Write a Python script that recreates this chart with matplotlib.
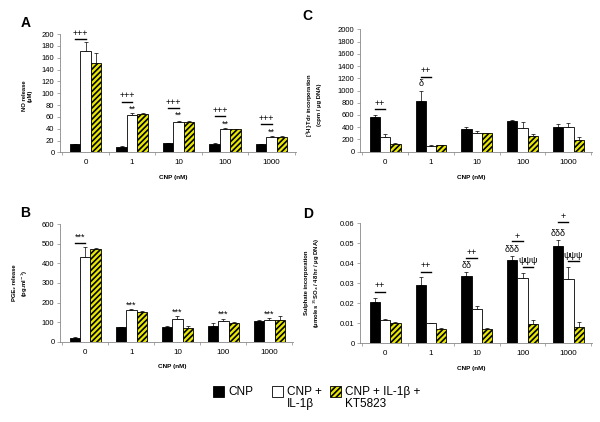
import numpy as np
import matplotlib
matplotlib.use("Agg")
import matplotlib.pyplot as plt
from matplotlib.patches import Rectangle

plt.rcParams['font.family'] = ['Liberation Sans', 'DejaVu Sans']
plt.rcParams['hatch.linewidth'] = 1.2

groups = ["0", "1", "10", "100", "1000"]
series = ["CNP", "CNP +\nIL-1\u03b2", "CNP + IL-1\u03b2 +\nKT5823"]

# panel A: NO release (uM)
a_cnp = [13.5, 9, 15, 13.5, 13.5]
a_cnp_err = [1, 1, 1, 3, 1]
a_il = [172, 63, 52, 39.5, 26]
a_il_err = [14, 4, 1, 1, 1]
a_kt = [150.5, 65, 52, 39, 26]
a_kt_err = [17, 1.5, 1, 1, 2.5]

# panel B: PGE2 release (pg/ml)
b_cnp = [22, 73, 78, 83, 105]
b_cnp_err = [5, 5, 5, 12, 5]
b_il = [430, 160, 114, 104, 109]
b_il_err = [51, 5, 17, 11, 11]
b_kt = [474, 151, 70, 97, 110]
b_kt_err = [5, 8, 12, 5, 20]

# panel C: 3H-Tdr incorporation
c_cnp = [562, 834, 366, 497, 409]
c_cnp_err = [33, 163, 32, 22, 38]
c_il = [235, 100, 300, 382, 398]
c_il_err = [49, 3, 33, 103, 66]
c_kt = [131, 104, 300, 257, 191]
c_kt_err = [10, 10, 10, 33, 49]

# panel D: sulphate incorporation
d_cnp = [0.0207, 0.0292, 0.0334, 0.0414, 0.0487]
d_cnp_err = [0.002, 0.0037, 0.002, 0.0022, 0.0028]
d_il = [0.0115, 0.0100, 0.0170, 0.0327, 0.0321]
d_il_err = [0.0007, 0.0001, 0.0016, 0.0022, 0.006]
d_kt = [0.0100, 0.0070, 0.0070, 0.0096, 0.0081]
d_kt_err = [0.0005, 0.0005, 0.0005, 0.002, 0.0024]

# significance marks: (group, text, text y, line y or None, line from bar, line to bar)
a_marks = [(0, "+++", 201, 191, 0, 1), (1, "+++", 96, 86, 0, 1), (2, "+++", 84, 75, 0, 1),
           (3, "+++", 71, 62, 0, 1), (4, "+++", 57, 48, 0, 1),
           (1, "**", 73, None, 1, 1), (2, "**", 62, None, 1, 1),
           (3, "**", 48, None, 1, 1), (4, "**", 34, None, 1, 1)]
b_marks = [(0, "***", 532, 503, 0, 1), (1, "***", 185, None, 1, 1), (2, "***", 150, None, 1, 1),
           (3, "***", 140, None, 1, 1), (4, "***", 140, None, 1, 1)]
c_marks = [(0, "++", 791, 693, 0, 1), (1, "++", 1320, 1227, 0, 1), (1, "\u03b4", 1118, None, 0, 0)]
d_marks = [(0, "++", 0.0288, 0.0257, 0, 1), (1, "++", 0.0386, 0.0357, 0, 1),
           (2, "++", 0.0455, 0.0425, 0, 1), (2, "\u03b4\u03b4", 0.0389, None, 0, 0),
           (3, "+", 0.0535, 0.0509, 0, 1), (3, "\u03b4\u03b4\u03b4", 0.0469, None, 0, 0),
           (3, "\u03c8\u03c8\u03c8", 0.0414, 0.0381, 1, 2),
           (4, "+", 0.0631, 0.0606, 0, 1), (4, "\u03b4\u03b4\u03b4", 0.0549, None, 0, 0),
           (4, "\u03c8\u03c8\u03c8", 0.0440, 0.0409, 1, 2)]

W = 0.225
YELLOW = "#e8e800"


def panel(rect, letter, cnp, cnp_e, il, il_e, kt, kt_e, ymax, ystep, ylabel, ylabpos, marks, fmt):
    ax = fig.add_axes(rect)
    x = np.arange(len(groups))
    vals = [(cnp, cnp_e, dict(color="black", edgecolor="black")),
            (il, il_e, dict(color="white", edgecolor="black")),
            (kt, kt_e, dict(color=YELLOW, edgecolor="black", hatch="//////"))]
    for i, (v, e, st) in enumerate(vals):
        pos = x + (i - 1) * W
        ax.bar(pos, v, W, linewidth=0.6, zorder=2, **st)
        ax.errorbar(pos, v, yerr=[np.zeros(len(e)), e], fmt="none", ecolor="black",
                    elinewidth=0.5, capsize=1.3, capthick=0.5, zorder=1)
    ax.set_xlim(-0.55, 4.52)
    ax.set_ylim(0, ymax)
    ax.set_yticks(np.arange(0, ymax + ystep / 2, ystep))
    ax.yaxis.set_major_formatter(plt.FuncFormatter(fmt))
    ax.set_xticks(x)
    ax.set_xticklabels(groups)
    ax.set_xticks(np.arange(-0.5, 5, 1), minor=True)
    ax.tick_params(axis="x", which="major", length=0, labelsize=5.8, pad=5)
    ax.tick_params(axis="x", which="minor", length=2, width=0.5, color="#888888")
    ax.tick_params(axis="y", length=2, width=0.5, color="#888888", labelsize=5.5, pad=2)
    for s in ["top", "right"]:
        ax.spines[s].set_visible(False)
    for s in ["left", "bottom"]:
        ax.spines[s].set_color("#888888")
        ax.spines[s].set_linewidth(0.6)
    ax.set_xlabel("CNP (nM)", fontsize=4.6, fontweight="bold")
    ax.xaxis.set_label_coords(0.48, -0.19)
    ax.set_ylabel(ylabel, fontsize=4.2, fontweight="bold", linespacing=1.3)
    ax.yaxis.set_label_coords(ylabpos[0], ylabpos[1])
    for g, txt, ty, ly, b0, b1 in marks:
        xt = g + ((b0 + b1) / 2 - 1) * W
        ax.text(xt, ty, txt, ha="center", va="center", fontsize=6.5, clip_on=False)
        if ly is not None:
            ax.plot([g + (b0 - 1) * W, g + (b1 - 1) * W], [ly, ly], color="black",
                    lw=1.0, clip_on=False)
    fig.text(rect[0] - 0.06, rect[1] + rect[3] + 0.025, letter, fontsize=10,
             fontweight="bold", ha="center", va="center")
    return ax


fig = plt.figure(figsize=(6.0, 4.22), dpi=100)

panel([0.100, 0.639, 0.393, 0.280], "A", a_cnp, a_cnp_err, a_il, a_il_err, a_kt, a_kt_err,
      200, 20, "NO release\n(\u03bcM)", (-0.115, 0.48), a_marks, lambda v, p: f"{v:.0f}")
fig.texts[-1].set_position((0.042, 0.945))
panel([0.600, 0.6405, 0.387, 0.290], "C", c_cnp, c_cnp_err, c_il, c_il_err, c_kt, c_kt_err,
      2000, 200, "[$^{3}$H]-Tdr incorporation\n(cpm / \u03bcg DNA)", (-0.165, 0.38), c_marks,
      lambda v, p: f"{v:.0f}")
fig.texts[-1].set_position((0.513, 0.962))
panel([0.100, 0.190, 0.389, 0.279], "B", b_cnp, b_cnp_err, b_il, b_il_err, b_kt, b_kt_err,
      600, 100, "PGE\u2082 release\n(pg.ml$^{-1}$)", (-0.13, 0.5), b_marks,
      lambda v, p: f"{v:.0f}")
fig.texts[-1].set_position((0.042, 0.495))
panel([0.600, 0.1865, 0.387, 0.285], "D", d_cnp, d_cnp_err, d_il, d_il_err, d_kt, d_kt_err,
      0.06, 0.01, "Sulphate incorporation\n(\u03bcmoles $^{35}$SO\u2084 / 48 hr / \u03bcg DNA)",
      (-0.165, 0.5), d_marks, lambda v, p: "0" if v == 0 else f"{v:.2f}")
fig.texts[-1].set_position((0.513, 0.493))

# legend
leg_x = [0.355, 0.453, 0.550]
leg_styles = [dict(facecolor="black", edgecolor="black"),
              dict(facecolor="white", edgecolor="black"),
              dict(facecolor=YELLOW, edgecolor="black", hatch="//////")]
sq_w, sq_h = 11 / 600, 11 / 422
for lx, lab, st in zip(leg_x, series, leg_styles):
    fig.add_artist(Rectangle((lx, 1 - 397 / 422), sq_w, sq_h, transform=fig.transFigure,
                             linewidth=0.6, **st))
    fig.text(lx + sq_w + 0.007, 1 - 386 / 422, lab, fontsize=8.5, ha="left", va="top",
             linespacing=1.05)

fig.savefig("out.png", dpi=100)
